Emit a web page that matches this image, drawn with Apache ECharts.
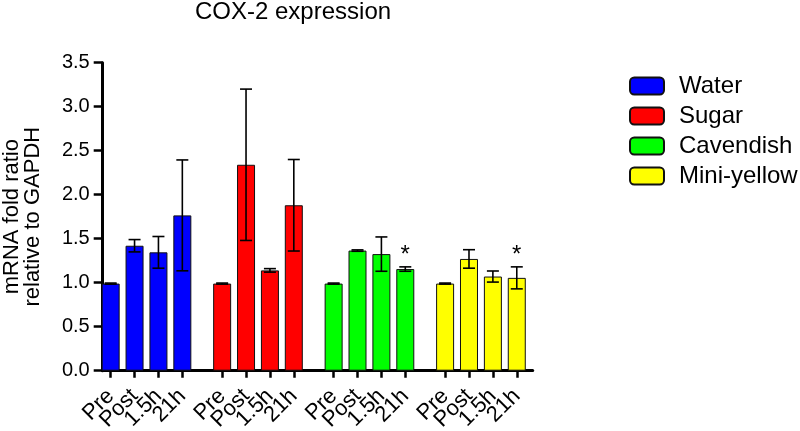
<!DOCTYPE html>
<html>
<head>
<meta charset="utf-8">
<script src="https://cdn.jsdelivr.net/npm/echarts@6/dist/echarts.min.js"></script>
<style>html,body{margin:0;padding:0;background:#fff}#c{width:800px;height:431px}</style>
</head>
<body>
<div id="c"></div>
<script>
// ---- data ----
const timepoints = ['Pre', 'Post', '1.5h', '21h'];
const seriesNames = ['Water', 'Sugar', 'Cavendish', 'Mini-yellow'];
const water = [0.99, 1.42, 1.345, 1.765];
const waterErr = [0.006, 0.07, 0.18, 0.63];
const sugar = [0.99, 2.34, 1.14, 1.88];
const sugarErr = [0.006, 0.86, 0.02, 0.52];
const cavendish = [0.99, 1.365, 1.325, 1.155];
const cavendishErr = [0.006, 0.008, 0.195, 0.025];
const miniYellow = [0.99, 1.27, 1.07, 1.055];
const miniYellowErr = [0.006, 0.105, 0.063, 0.125];
const cavendishSig = [false, false, false, true];
const miniYellowSig = [false, false, false, true];
const yTicks = ['0.0', '0.5', '1.0', '1.5', '2.0', '2.5', '3.0', '3.5'];

// ---- layout helpers (category slots) ----
const FONT = '"Liberation Sans", Arial, sans-serif';
const colors = ['#0000ff', '#ff0000', '#00ff00', '#ffff00'];
const groups = [water, sugar, cavendish, miniYellow];
const errs = [waterErr, sugarErr, cavendishErr, miniYellowErr];
const sigs = [[false, false, false, false], [false, false, false, false], cavendishSig, miniYellowSig];
const SLOT = 3, GROUP = 14, LEAD = 1, TAIL = 2;
const nSlots = LEAD + GROUP * 3 + SLOT * 3 + 1 + TAIL;
const cats = [];
for (let k = 0; k < nSlots; k++) cats.push(' '.repeat(k + 1));
const slotOf = (g, i) => LEAD + g * GROUP + i * SLOT;
const isBar = new Array(nSlots).fill(false);
const labelOf = {};
for (let g = 0; g < 4; g++) for (let i = 0; i < 4; i++) {
  isBar[slotOf(g, i)] = true;
  labelOf[slotOf(g, i)] = timepoints[i];
}
const showLabel = (idx) => isBar[idx] || idx === 0 || idx === nSlots - 1;

const barSeries = groups.map((vals, g) => {
  const d = new Array(nSlots).fill('-');
  vals.forEach((v, i) => d[slotOf(g, i)] = v);
  return {
    name: seriesNames[g], type: 'bar', data: d, barWidth: 18, barGap: '-100%',
    itemStyle: { color: colors[g], borderColor: '#111', borderWidth: 1 },
    silent: true
  };
});

const errData = [];
groups.forEach((vals, g) => vals.forEach((v, i) => {
  errData.push([slotOf(g, i), v - errs[g][i], v + errs[g][i], sigs[g][i] ? 1 : 0]);
}));

const errSeries = {
  type: 'custom', data: errData, z: 10, silent: true,
  renderItem: (params, api) => {
    const x = api.value(0);
    const lo = api.coord([x, api.value(1)]);
    const hi = api.coord([x, api.value(2)]);
    const cap = 6;
    const st = { stroke: '#000', lineWidth: 1.6 };
    const children = [
      { type: 'line', shape: { x1: lo[0], y1: lo[1], x2: hi[0], y2: hi[1] }, style: st },
      { type: 'line', shape: { x1: lo[0] - cap, y1: lo[1], x2: lo[0] + cap, y2: lo[1] }, style: st },
      { type: 'line', shape: { x1: hi[0] - cap, y1: hi[1], x2: hi[0] + cap, y2: hi[1] }, style: st }
    ];
    if (api.value(3) === 1) {
      children.push({ type: 'text', style: { text: '*', x: hi[0], y: hi[1] + 1, align: 'center', verticalAlign: 'bottom', font: '24px ' + FONT, fill: '#000' } });
    }
    return { type: 'group', children };
  }
};

const chart = echarts.init(document.getElementById('c'), null, { renderer: 'canvas' });
chart.setOption({
  animation: false,
  textStyle: { fontFamily: FONT, color: '#000' },
  title: {
    text: 'COX-2 expression', left: 195, top: 0, padding: 0,
    textStyle: { fontSize: 24, fontWeight: 'normal', color: '#000', fontFamily: FONT }
  },
  legend: {
    data: seriesNames, orient: 'vertical', left: 624, top: 69,
    itemWidth: 34, itemHeight: 17, itemGap: 6,
    textStyle: { fontSize: 24, color: '#000', padding: [0, 0, 0, 10] },
    selectedMode: false
  },
  grid: { left: 102.7, right: 267.3, top: 62.7, bottom: 60.3, containLabel: false, outerBoundsMode: 'none' },
  xAxis: {
    type: 'category', data: cats, boundaryGap: false,
    axisLine: { lineStyle: { color: '#000', width: 3 } },
    axisTick: { length: 7, lineStyle: { color: '#000', width: 2.5 }, interval: (idx) => isBar[idx] },
    axisLabel: {
      interval: showLabel, rotate: 45, margin: 22, fontSize: 22, color: '#000',
      hideOverlap: false,
      formatter: (v, idx) => labelOf[idx] || ' '
    },
    splitLine: { show: false }
  },
  yAxis: {
    type: 'value', min: 0, max: 3.5, interval: 0.5,
    name: 'mRNA fold ratio\nrelative to GAPDH', nameLocation: 'middle', nameGap: 59,
    nameTextStyle: { fontSize: 22, lineHeight: 21, color: '#000' },
    axisLine: { show: true, lineStyle: { color: '#000', width: 3 } },
    axisTick: { show: true, length: 9, lineStyle: { color: '#000', width: 2.5 } },
    axisLabel: { fontSize: 20, color: '#000', margin: 13, formatter: (v) => yTicks[Math.round(v / 0.5)] },
    splitLine: { show: false }
  },
  series: [...barSeries, errSeries]
});
</script>
</body>
</html>
